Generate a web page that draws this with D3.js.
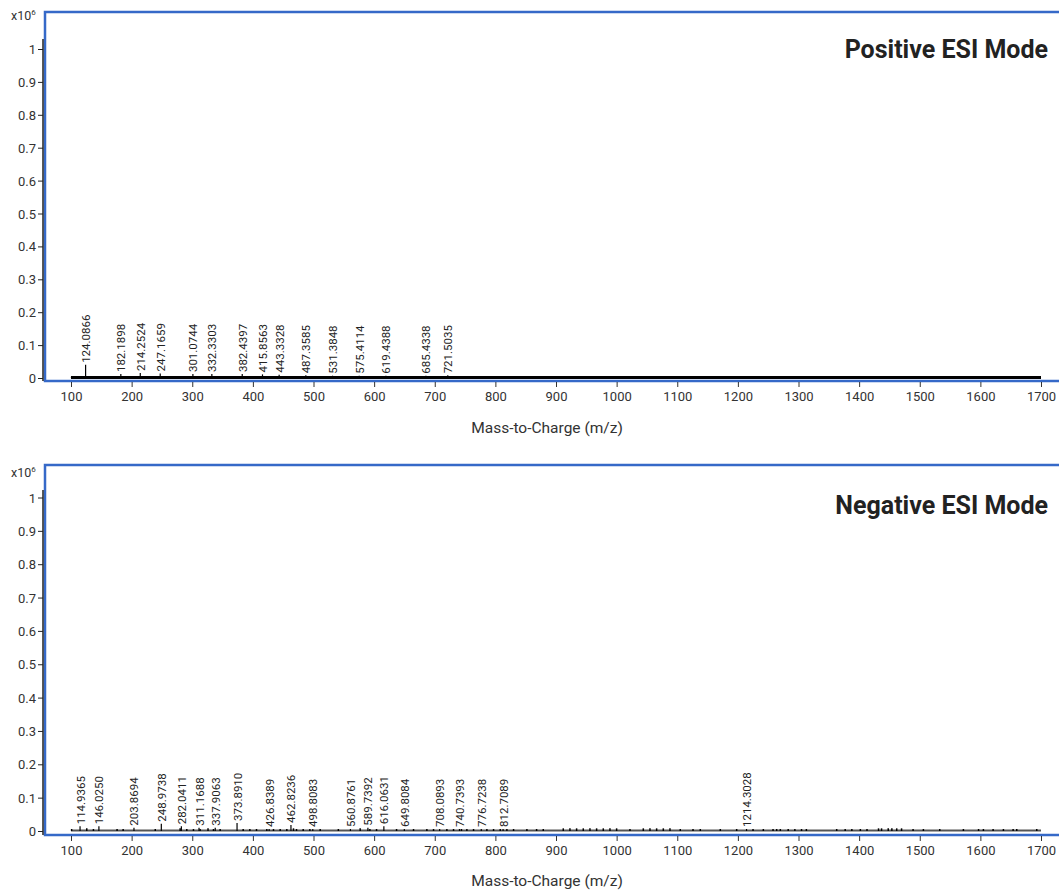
<!DOCTYPE html>
<html><head><meta charset="utf-8">
<script src="https://cdn.jsdelivr.net/npm/d3@7"></script>
<style>
html,body{margin:0;padding:0;background:#fff;}
svg text{font-family:Roboto,"Noto Sans",sans-serif;}
</style></head>
<body>
<svg id="chart" width="1059" height="892"></svg>
<script>
// ---- data ----
const xTicks = [100,200,300,400,500,600,700,800,900,1000,1100,1200,1300,1400,1500,1600,1700];
const yTicks = [0,0.1,0.2,0.3,0.4,0.5,0.6,0.7,0.8,0.9,1];
const yTickLabels = ["0","0.1","0.2","0.3","0.4","0.5","0.6","0.7","0.8","0.9","1"];

const posMz  = [124.0866,182.1898,214.2524,247.1659,301.0744,332.3303,382.4397,415.8563,443.3328,487.3585,531.3848,575.4114,619.4388,685.4338,721.5035];
const posInt = [0.040,0.012,0.015,0.014,0.012,0.012,0.012,0.011,0.010,0.008,0.007,0.007,0.007,0.007,0.008];
const posNoiseMz  = [101,204,245,278];
const posNoiseInt = [0.004,0.006,0.005,0.004];

const negMz  = [114.9365,146.0250,203.8694,248.9738,282.0411,311.1688,337.9063,373.8910,426.8389,462.8236,498.8083,560.8761,589.7392,616.0631,649.8084,708.0893,740.7393,776.7238,812.7089,1214.3028];
const negInt = [0.014,0.014,0.010,0.022,0.014,0.010,0.010,0.024,0.006,0.018,0.006,0.006,0.010,0.014,0.006,0.006,0.006,0.006,0.006,0.006];
const negNoiseMz  = [101,126,137,176,186,239,280,291,302,313,326,335,346,384,395,406,423,434,445,456,467,472,483,494,511,541,577,593,604,637,665,687,698,720,731,744,753,764,786,797,808,819,830,852,868,879,912,923,934,945,956,967,978,989,1000,1022,1044,1055,1066,1077,1088,1105,1126,1138,1171,1198,1225,1242,1258,1264,1270,1283,1294,1305,1313,1363,1377,1388,1402,1413,1432,1437,1448,1454,1462,1470,1489,1506,1533,1572,1597,1605,1621,1638,1654,1660,1693];
const negNoiseInt = [0.006,0.008,0.006,0.006,0.006,0.006,0.008,0.006,0.006,0.006,0.008,0.006,0.006,0.006,0.006,0.006,0.006,0.006,0.006,0.006,0.008,0.006,0.006,0.006,0.006,0.006,0.008,0.006,0.006,0.006,0.006,0.006,0.006,0.006,0.006,0.006,0.006,0.006,0.006,0.006,0.006,0.006,0.006,0.006,0.006,0.006,0.008,0.008,0.008,0.008,0.008,0.008,0.008,0.008,0.008,0.006,0.008,0.008,0.008,0.008,0.008,0.006,0.006,0.006,0.006,0.006,0.006,0.006,0.006,0.006,0.006,0.006,0.006,0.006,0.006,0.006,0.006,0.006,0.006,0.006,0.008,0.008,0.008,0.008,0.008,0.008,0.006,0.006,0.006,0.006,0.006,0.006,0.006,0.006,0.006,0.006,0.006];

const panels = [
  {title:"Positive ESI Mode", mz:posMz, it:posInt, nmz:posNoiseMz, nit:posNoiseInt,
   frameTop:12, y0:378, y1:49, axisTop:39, frameBottom:381, titleBase:58, unitBase:20, xLabBase:401, xTitleBase:433, baseColor:"#000", baseW:3},
  {title:"Negative ESI Mode", mz:negMz, it:negInt, nmz:negNoiseMz, nit:negNoiseInt,
   frameTop:465, y0:831, y1:497.5, axisTop:490, frameBottom:835, titleBase:514, unitBase:477, xLabBase:855, xTitleBase:886, baseColor:"#555", baseW:2}
];

const svg = d3.select("#chart");
const x = d3.scaleLinear().domain([100,1700]).range([71,1041]);
const blue = "#3569c8";

panels.forEach(p => {
  const y = d3.scaleLinear().domain([0,1]).range([p.y0,p.y1]);
  const g = svg.append("g");

  // frame
  g.append("rect").attr("x",45).attr("y",p.frameTop).attr("width",1040)
    .attr("height",p.frameBottom-p.frameTop).attr("fill","none")
    .attr("stroke",blue).attr("stroke-width",2.5);

  // y axis
  g.append("line").attr("x1",43).attr("x2",43).attr("y1",p.axisTop).attr("y2",p.frameBottom)
    .attr("stroke","#222").attr("stroke-width",1.5);
  const ya = g.append("g").attr("transform","translate(43,0)")
    .call(d3.axisLeft(y).tickValues(yTicks).tickSize(5).tickFormat((d,i)=>yTickLabels[i]));
  ya.select(".domain").remove();
  ya.selectAll("line").attr("stroke","#222");
  ya.selectAll("text").attr("font-size",13).attr("fill","#333").attr("x",-7).attr("dy","0.35em");

  // x axis
  const xa = g.append("g").attr("transform",`translate(0,${p.frameBottom+1})`)
    .call(d3.axisBottom(x).tickValues(xTicks).tickSize(5).tickFormat(d3.format("d")));
  xa.select(".domain").remove();
  xa.selectAll("line").attr("stroke","#333");
  xa.selectAll("text").attr("font-size",13).attr("fill","#333").attr("y",p.xLabBase-(p.frameBottom+1)).attr("dy",0);

  // axis title
  g.append("text").attr("x",547).attr("y",p.xTitleBase)
    .attr("text-anchor","middle").attr("font-size",15.5).attr("fill","#333").text("Mass-to-Charge (m/z)");

  // units
  const u = g.append("text").attr("x",11).attr("y",p.unitBase).attr("font-size",12.5).attr("fill","#333");
  u.append("tspan").text("x10");
  u.append("tspan").attr("font-size",8).attr("dy",-5).text("6");

  // baseline of spectrum
  g.append("line").attr("x1",x(100)).attr("x2",x(1700)).attr("y1",y(0)-0.5).attr("y2",y(0)-0.5)
    .attr("stroke",p.baseColor).attr("stroke-width",p.baseW);

  // noise sticks
  g.selectAll(".noise").data(p.nmz).enter().append("line")
    .attr("x1",d=>x(d)).attr("x2",d=>x(d)).attr("y1",y(0)).attr("y2",(d,i)=>y(p.nit[i]))
    .attr("stroke","#000").attr("stroke-width",1.5);

  // peaks
  g.selectAll(".pk").data(p.mz).enter().append("line")
    .attr("x1",d=>x(d)).attr("x2",d=>x(d)).attr("y1",y(0)).attr("y2",(d,i)=>y(p.it[i]))
    .attr("stroke","#000").attr("stroke-width",1.2);

  g.selectAll(".lab").data(p.mz).enter().append("text")
    .attr("transform",(d,i)=>`translate(${x(d)+4.5},${y(p.it[i])-2}) rotate(-90)`)
    .attr("font-size",11.5).attr("fill","#222").text(d=>d.toFixed(4));

  // title
  g.append("text").attr("x",1048).attr("y",p.titleBase).attr("text-anchor","end")
    .attr("font-size",25).attr("font-weight","bold").attr("fill","#222").text(p.title);
});
</script>
</body></html>
